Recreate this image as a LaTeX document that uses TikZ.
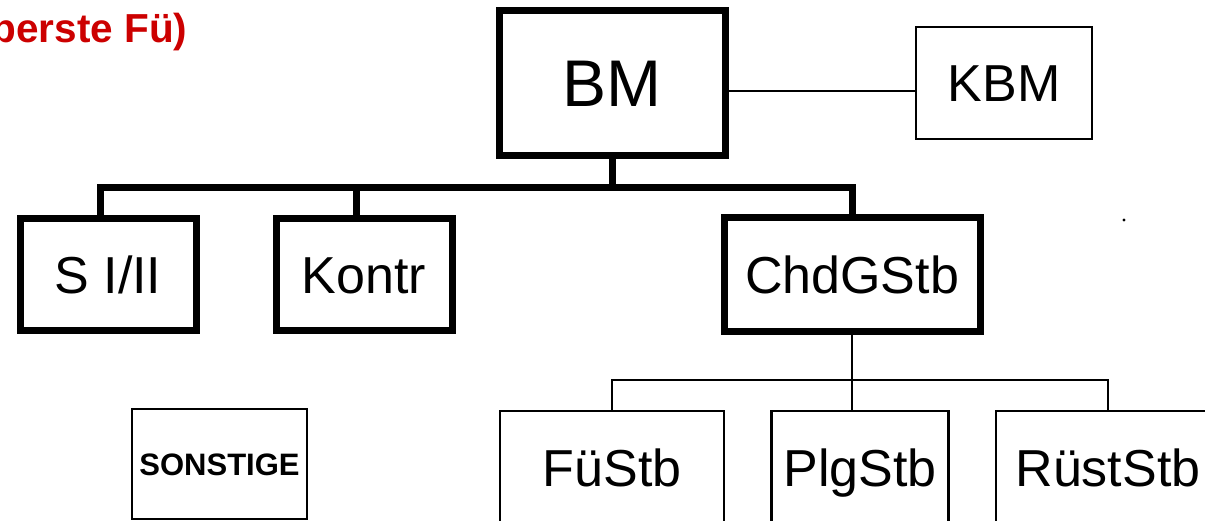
\documentclass[tikz,border=0pt]{standalone}
\usepackage{fontspec}
\setmainfont{Liberation Sans}
\definecolor{titlered}{RGB}{204,0,0}
\tikzset{
	chefbox/.style={draw, line width=7pt, inner sep=0pt, font=\fontsize{52}{60}\selectfont, text height=37pt, text depth=0pt},
	stabbox/.style={draw, line width=2.2pt, inner sep=0pt, font=\fontsize{52}{60}\selectfont, text height=37pt, text depth=0pt},
	busline/.style={line width=7pt},
	subline/.style={line width=2.2pt}
}
\begin{document}
\begin{tikzpicture}[x=1pt, y=-1pt]
	\useasboundingbox (0,0) rectangle (1205,521);
	\node[anchor=base east, text=titlered, font=\bfseries\fontsize{40.5}{46}\selectfont] (titel) at (191,43) {(oberste Fü)};
	\node[chefbox, minimum width=226pt, minimum height=145pt, font=\fontsize{66}{76}\selectfont, text height=47pt] (BM) at (612,83) {BM};
	\node[stabbox, minimum width=176pt, minimum height=112pt] (KBM) at (1004,83) {KBM};
	\node[chefbox, minimum width=176pt, minimum height=112pt] (SII) at (108,275) {S I/II};
	\node[chefbox, minimum width=176pt, minimum height=112pt] (Kontr) at (364,275) {Kontr};
	\node[chefbox, minimum width=256pt, minimum height=114pt] (ChdG) at (852,275) {ChdGStb};
	\node[stabbox, minimum width=175pt, minimum height=110pt, font=\bfseries\fontsize{31}{36}\selectfont, text height=22pt] (Sonst) at (219.5,464) {SONSTIGE};
	\node[stabbox, minimum width=224pt, minimum height=114pt] (Fue) at (612,468) {FüStb};
	\node[stabbox, minimum width=177pt, minimum height=114pt] (Plg) at (860,468) {PlgStb};
	\node[stabbox, minimum width=224pt, minimum height=114pt] (Ruest) at (1108,468) {RüstStb};

	\draw[subline] ([yshift=-8pt]BM.east) -- ([yshift=-8pt]KBM.west);

	\coordinate (busL) at (100,188);
	\coordinate (busR) at (852,188);
	\draw[busline] ([xshift=-8pt]SII.north) -- (busL) -- (busR) -- (ChdG.north);
	\draw[busline] (BM.south) -- (BM.south |- busL);
	\draw[busline] ([xshift=-8pt]Kontr.north) -- ([xshift=-8pt]Kontr.north |- busL);

	\coordinate (subL) at (612,380);
	\coordinate (subR) at (1108,380);
	\draw[subline] (Fue.north) -- (subL) -- (subR) -- (Ruest.north);
	\draw[subline] (ChdG.south) -- (ChdG.south |- Plg.north);

	\fill (1124,220) circle (1.6pt);
\end{tikzpicture}
\end{document}
